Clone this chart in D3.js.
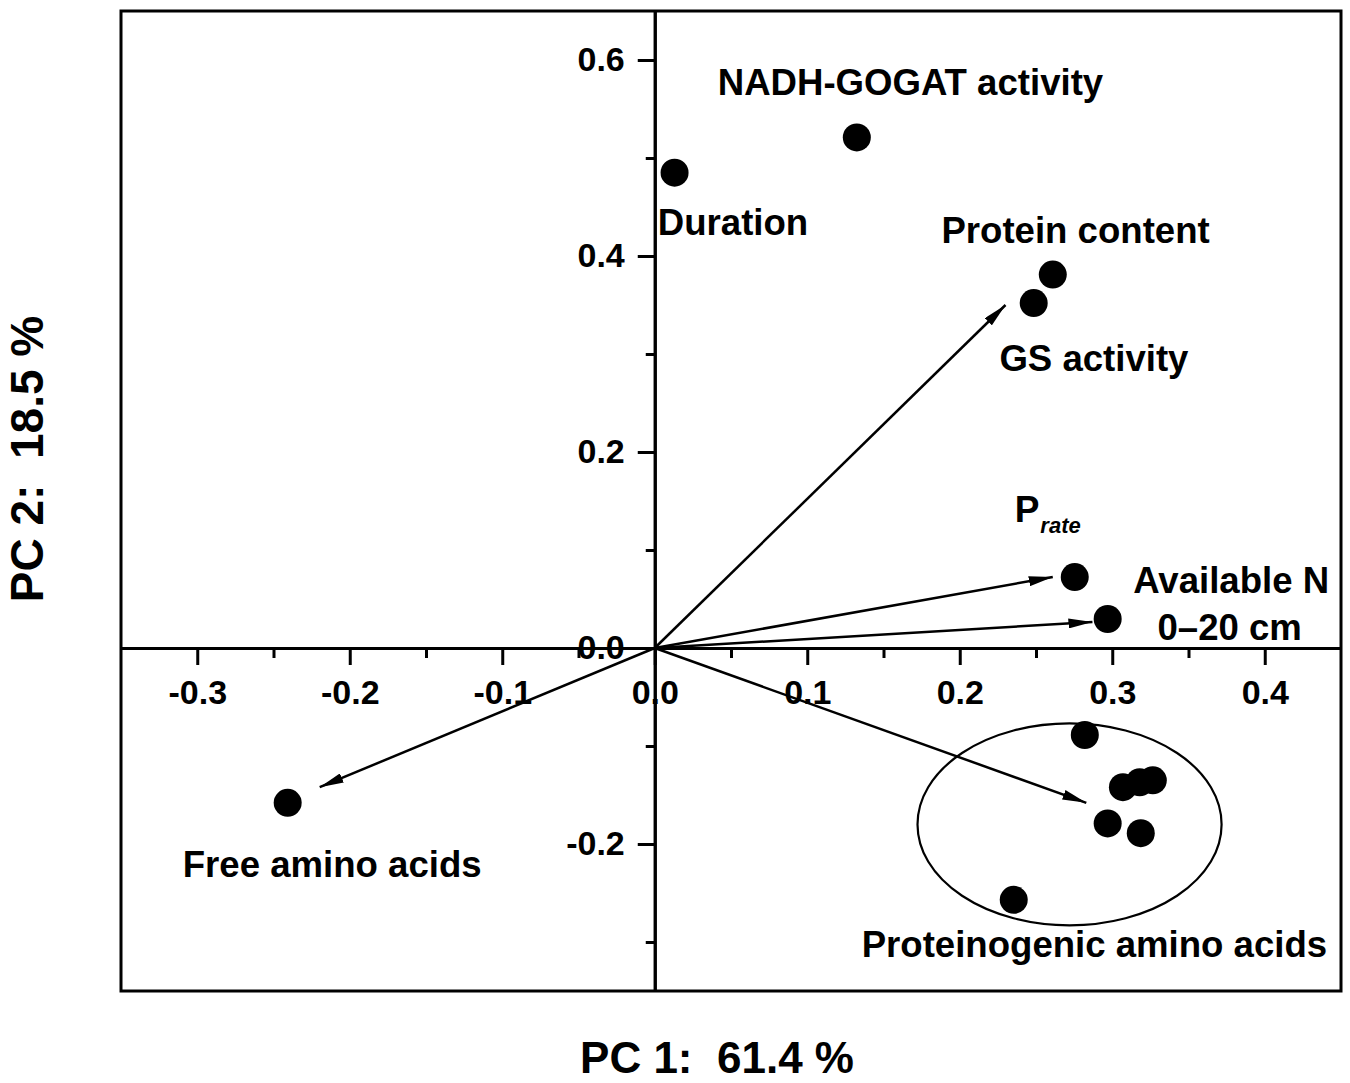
<!DOCTYPE html>
<html lang="en">
<head>
<meta charset="utf-8">
<title>PCA biplot</title>
<script src="https://cdn.jsdelivr.net/npm/d3@7"></script>
<style>
  body { margin: 0; background: #fff; }
  text { font-family: "Liberation Sans", Arial, sans-serif; font-weight: bold; fill: #000; }
</style>
</head>
<body>
<svg id="chart" width="1350" height="1083"></svg>
<script>
// scores (PC1, PC2)
var pointPC1 = [0.013, 0.1325, 0.261, 0.2485, 0.2754, 0.297, -0.2407,
                0.282, 0.307, 0.318, 0.3266, 0.297, 0.3187, 0.2354];
var pointPC2 = [0.485, 0.521, 0.381, 0.352, 0.0724, 0.0296, -0.158,
                -0.0888, -0.142, -0.137, -0.135, -0.179, -0.189, -0.257];

// loading arrows (tips)
var arrowPC1 = [0.230, 0.261, 0.287, -0.2197, 0.283];
var arrowPC2 = [0.350, 0.0724, 0.0265, -0.142, -0.158];

// tick values
var xMajor = [-0.3, -0.2, -0.1, 0.0, 0.1, 0.2, 0.3, 0.4];
var xMinor = [-0.25, -0.15, -0.05, 0.05, 0.15, 0.25, 0.35];
var yMajor = [-0.2, 0.0, 0.2, 0.4, 0.6];
var yMinor = [-0.3, -0.1, 0.1, 0.3, 0.5];

// group of proteinogenic amino acids (center, radii in PC units)
var groupCenter = [0.272, -0.180];
var groupRadius = [0.0997, 0.103];

var svg = d3.select("#chart");

var x = d3.scaleLinear().domain([-0.35, 0.45]).range([121, 1341]);
var y = d3.scaleLinear().domain([-0.35, 0.65]).range([991, 11]);

var fmt = function(d) { return d.toFixed(1); };

/** frame */
svg.append("rect")
   .attr("x", x(-0.35)).attr("y", y(0.65))
   .attr("width", x(0.45) - x(-0.35))
   .attr("height", y(-0.35) - y(0.65))
   .attr("fill", "none").attr("stroke", "#000").attr("stroke-width", 3);

/** axes through the origin */
function styleAxis(g) {
    g.select(".domain").attr("stroke-width", 3);
    g.selectAll(".tick line").attr("stroke-width", 3);
    g.selectAll(".tick text")
     .attr("font-size", 34)
     .attr("font-family", "Liberation Sans, Arial, sans-serif")
     .attr("font-weight", "bold");
}

svg.append("g")
   .attr("transform", "translate(0," + y(0) + ")")
   .call(d3.axisBottom(x).tickValues(xMinor).tickSize(10).tickSizeOuter(0).tickFormat(""))
   .call(styleAxis);
svg.append("g")
   .attr("transform", "translate(0," + y(0) + ")")
   .call(d3.axisBottom(x).tickValues(xMajor).tickSize(17).tickSizeOuter(0).tickPadding(15).tickFormat(fmt))
   .call(styleAxis);

svg.append("g")
   .attr("transform", "translate(" + x(0) + ",0)")
   .call(d3.axisLeft(y).tickValues(yMinor).tickSize(9).tickSizeOuter(0).tickFormat(""))
   .call(styleAxis);
svg.append("g")
   .attr("transform", "translate(" + x(0) + ",0)")
   .call(d3.axisLeft(y).tickValues(yMajor).tickSize(17).tickSizeOuter(0).tickPadding(13).tickFormat(fmt))
   .call(styleAxis);

/** arrow head */
svg.append("defs").append("marker")
   .attr("id", "head")
   .attr("viewBox", "0 0 24 10")
   .attr("refX", 24).attr("refY", 5)
   .attr("markerWidth", 24).attr("markerHeight", 10)
   .attr("markerUnits", "userSpaceOnUse")
   .attr("orient", "auto")
   .append("path").attr("d", "M0,0 L24,5 L0,10 Z").attr("fill", "#000");

svg.selectAll(".arrow")
   .data(arrowPC1)
   .enter().append("line")
   .attr("class", "arrow")
   .attr("x1", x(0)).attr("y1", y(0))
   .attr("x2", function(d) { return x(d); })
   .attr("y2", function(_, i) { return y(arrowPC2[i]); })
   .attr("stroke", "#000").attr("stroke-width", 2.5)
   .attr("marker-end", "url(#head)");

/** ellipse round the amino acid group */
svg.append("ellipse")
   .attr("cx", x(groupCenter[0])).attr("cy", y(groupCenter[1]))
   .attr("rx", x(groupRadius[0]) - x(0))
   .attr("ry", y(0) - y(groupRadius[1]))
   .attr("fill", "none").attr("stroke", "#000").attr("stroke-width", 2.2);

/** points */
svg.selectAll(".dot")
   .data(pointPC1)
   .enter().append("circle")
   .attr("class", "dot")
   .attr("cx", function(d) { return x(d); })
   .attr("cy", function(_, i) { return y(pointPC2[i]); })
   .attr("r", 14)
   .attr("fill", "#000");

/** labels, placed in PC units */
var labels = [
    { t: "NADH-GOGAT activity", px: 0.0413, py: 0.564, a: "start" },
    { t: "Duration", px: 0.002, py: 0.421, a: "start" },
    { t: "Protein content", px: 0.188, py: 0.413, a: "start" },
    { t: "GS activity", px: 0.226, py: 0.283, a: "start" },
    { t: "Available N", px: 0.378, py: 0.056, a: "middle" },
    { t: "0\u201320 cm", px: 0.377, py: 0.008, a: "middle" },
    { t: "Free amino acids", px: -0.3095, py: -0.234, a: "start" },
    { t: "Proteinogenic amino acids", px: 0.1357, py: -0.315, a: "start" }
];
svg.selectAll(".lab")
   .data(labels)
   .enter().append("text")
   .attr("class", "lab")
   .attr("x", function(d) { return x(d.px); })
   .attr("y", function(d) { return y(d.py); })
   .attr("text-anchor", function(d) { return d.a; })
   .attr("font-size", 36.6)
   .text(function(d) { return d.t; });

var prate = svg.append("text")
   .attr("x", x(0.236)).attr("y", y(0.129))
   .attr("font-size", 37);
prate.append("tspan").text("P");
prate.append("tspan").attr("dx", 1).attr("dy", 11)
   .attr("font-size", 22).attr("font-style", "italic").text("rate");

/** axis titles */
svg.append("text")
   .attr("x", 717).attr("y", 1073)
   .attr("text-anchor", "middle")
   .attr("font-size", 44)
   .attr("xml:space", "preserve")
   .text("PC 1:  61.4 %");

svg.append("text")
   .attr("transform", "translate(43,459) rotate(-90)")
   .attr("text-anchor", "middle")
   .attr("font-size", 46)
   .attr("xml:space", "preserve")
   .text("PC 2:  18.5 %");
</script>
</body>
</html>
